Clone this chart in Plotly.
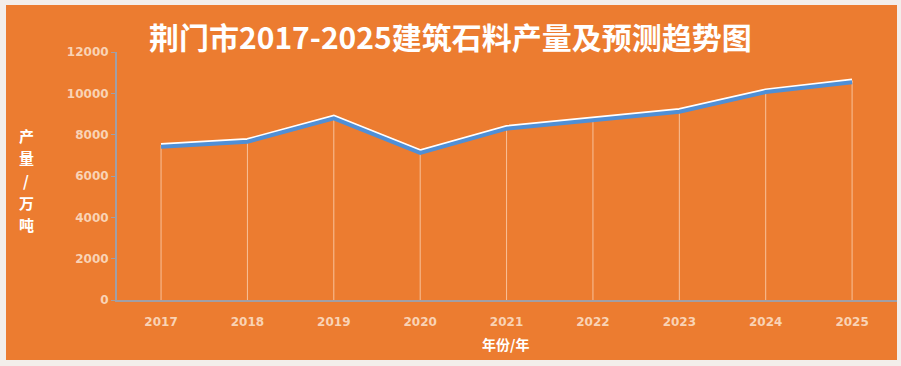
import plotly.graph_objects as go

years = [2017, 2018, 2019, 2020, 2021, 2022, 2023, 2024, 2025]
output = [7500, 7740, 8870, 7200, 8370, 8780, 9190, 10140, 10620]
y_ticks = [0, 2000, 4000, 6000, 8000, 10000, 12000]

title_text = "荆门市2017-2025建筑石料产量及预测趋势图"
x_title = "年份/年"
y_title = "产量/万吨"

orange = "#EC7C30"
tick_color = "#F9D3B5"
axis_color = "#A09FA6"

fig = go.Figure()

# drop lines from each point to the axis
dx, dy = [], []
for x, v in zip(years, output):
    dx += [x, x, None]
    dy += [0, v, None]
fig.add_trace(go.Scatter(x=dx, y=dy, mode="lines",
                         line=dict(color="rgba(255,230,210,0.65)", width=1),
                         hoverinfo="skip", showlegend=False))

# blue shadow line (slightly offset downward via second axis)
fig.add_trace(go.Scatter(x=years, y=output, mode="lines", yaxis="y2",
                         line=dict(color="#4F8FD6", width=4),
                         showlegend=False))
# white main line
fig.add_trace(go.Scatter(x=years, y=output, mode="lines",
                         line=dict(color="#FFFFFF", width=4),
                         showlegend=False))

fig.update_layout(
    width=901, height=366,
    margin=dict(l=117, r=4, t=52, b=66, autoexpand=False),
    paper_bgcolor="#F3EEEA",
    plot_bgcolor=orange,
    showlegend=False,
    xaxis=dict(range=[2016.49, 2025.52], tickvals=years,
               ticktext=[str(y) for y in years],
               showgrid=False, zeroline=False,
               showline=True, linecolor=axis_color, linewidth=2,
               ticks="", ticklabelstandoff=10,
               tickfont=dict(family="DejaVu Sans", size=12, color=tick_color,
                             weight="bold")),
    yaxis=dict(range=[0, 12000], tickvals=y_ticks,
               ticktext=[str(t) for t in y_ticks],
               showgrid=False, zeroline=False,
               showline=True, linecolor=axis_color, linewidth=2,
               ticks="outside", ticklen=4, tickcolor=axis_color, tickwidth=1,
               tickfont=dict(family="DejaVu Sans", size=12, color=tick_color,
                             weight="bold")),
    yaxis2=dict(range=[80, 12080], overlaying="y", visible=False),
)

# orange card background
fig.add_shape(type="rect", xref="paper", yref="paper",
              x0=-111/780, x1=1.0, y0=-60/248, y1=1 + 47/248,
              fillcolor=orange, line=dict(width=0), layer="below")

fig.add_annotation(text="<b>" + title_text + "</b>", xref="paper", yref="paper",
                   x=(450-117)/780, y=1 + 16/248, xanchor="center", yanchor="middle",
                   showarrow=False,
                   font=dict(family="Noto Sans CJK SC", size=30, color="#FFFFFF"))
fig.add_annotation(text="<b>" + x_title + "</b>", xref="paper", yref="paper",
                   x=(505-117)/780, y=-44/248, xanchor="center", yanchor="middle",
                   showarrow=False,
                   font=dict(family="Noto Sans CJK SC", size=14, color="#FFFFFF"))
for i, ch in enumerate(y_title):
    fig.add_annotation(text="<b>" + ch + "</b>", xref="paper", yref="paper",
                       x=(26-117)/780, y=(300-(135 + 22.5*i))/248,
                       xanchor="center", yanchor="middle", showarrow=False,
                       font=dict(family="Noto Sans CJK SC", size=15, color="#FFFFFF"))

fig.write_html("out.html", config={"displayModeBar": False},
               post_script="document.body.style.margin='0';document.body.style.overflow='hidden';")
